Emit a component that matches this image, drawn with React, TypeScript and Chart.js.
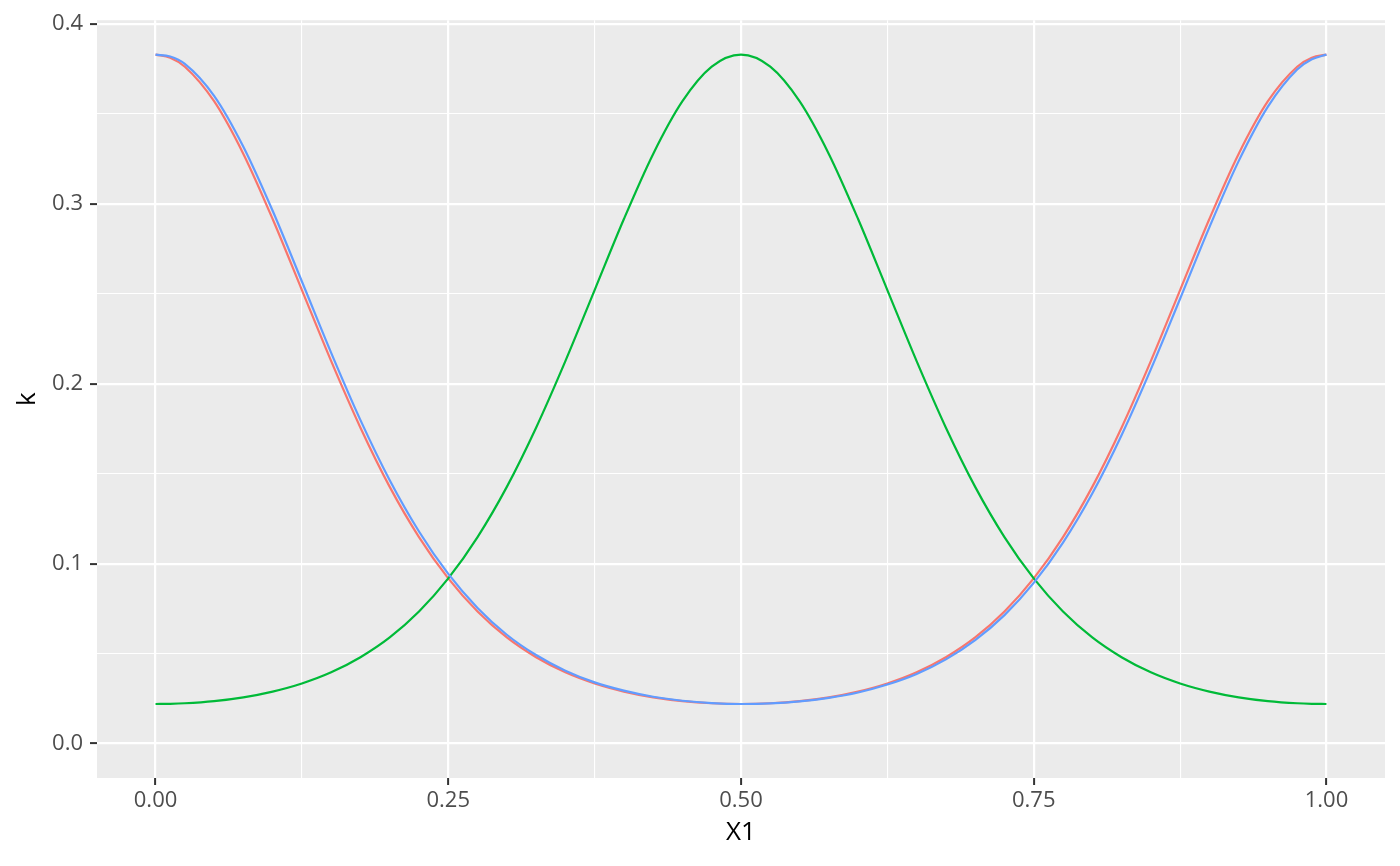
import { useEffect, useRef } from "react";
import { Chart, registerables, Plugin } from "chart.js";

Chart.register(...registerables);

const xValues = [
  0, 0.0125, 0.025, 0.05, 0.075, 0.1, 0.125, 0.15, 0.175, 0.2, 0.225, 0.25, 0.275, 0.3, 0.325,
  0.35, 0.375, 0.4, 0.425, 0.45, 0.475, 0.5, 0.525, 0.55, 0.575, 0.6, 0.625, 0.65,
  0.675, 0.7, 0.725, 0.75, 0.775, 0.8, 0.825, 0.85, 0.875, 0.9, 0.925, 0.95, 0.975, 0.9875, 1,
];

const series1 = [
  0.383, 0.3813, 0.3763, 0.3571, 0.3278, 0.2916, 0.2521, 0.2126, 0.1756, 0.1427, 0.1148, 0.0918,
  0.0734, 0.059, 0.048, 0.0396, 0.0334, 0.0289, 0.0257, 0.0236, 0.0224, 0.022, 0.0224,
  0.0236, 0.0257, 0.0289, 0.0334, 0.0396, 0.048, 0.059, 0.0734, 0.0918, 0.1148, 0.1427,
  0.1756, 0.2126, 0.2521, 0.2916, 0.3278, 0.3571, 0.3763, 0.3813, 0.383,
];

const series2 = [
  0.022, 0.0221, 0.0224, 0.0236, 0.0257, 0.0289, 0.0334, 0.0396, 0.048, 0.059, 0.0734, 0.0918,
  0.1148, 0.1427, 0.1756, 0.2126, 0.2521, 0.2916, 0.3278, 0.3571, 0.3763, 0.383, 0.3763,
  0.3571, 0.3278, 0.2916, 0.2521, 0.2126, 0.1756, 0.1427, 0.1148, 0.0918, 0.0734, 0.059,
  0.048, 0.0396, 0.0334, 0.0289, 0.0257, 0.0236, 0.0224, 0.0221, 0.022,
];

const series3 = [
  0.383, 0.382, 0.3779, 0.3601, 0.3318, 0.2962, 0.2569, 0.2172, 0.1798, 0.1464, 0.1179, 0.0943,
  0.0754, 0.0605, 0.0492, 0.0405, 0.034, 0.0294, 0.026, 0.0238, 0.0225, 0.022, 0.0223,
  0.0234, 0.0254, 0.0284, 0.0328, 0.0387, 0.0468, 0.0575, 0.0714, 0.0893, 0.1117, 0.139,
  0.1714, 0.208, 0.2473, 0.287, 0.3238, 0.3541, 0.3747, 0.3804, 0.383,
];

// gridline positions (major ones get labels)
const xGrid = [0, 0.125, 0.25, 0.375, 0.5, 0.625, 0.75, 0.875, 1];
const xMajor = [0, 0.25, 0.5, 0.75, 1];
const yGrid = [0, 0.05, 0.1, 0.15, 0.2, 0.25, 0.3, 0.35, 0.4];
const yMajor = [0, 0.1, 0.2, 0.3, 0.4];

const isMajor = (list: number[], v: number) => list.some((m) => Math.abs(m - v) < 1e-9);

const panelBg: Plugin = {
  id: "panelBg",
  beforeDraw(chart) {
    const { ctx, chartArea } = chart;
    ctx.save();
    ctx.fillStyle = "#EBEBEB";
    ctx.fillRect(chartArea.left, chartArea.top, chartArea.right - chartArea.left, chartArea.bottom - chartArea.top);
    ctx.restore();
  },
};

export default function App() {
  const chartRef = useRef<HTMLCanvasElement>(null);
  const chartInstance = useRef<Chart | null>(null);

  useEffect(() => {
    if (!chartRef.current) return;
    if (chartInstance.current) chartInstance.current.destroy();

    const mk = (label: string, data: number[], color: string, order: number) => ({
      label,
      data: xValues.map((x, i) => ({ x, y: data[i] })),
      borderColor: color,
      backgroundColor: color,
      borderWidth: 2.2,
      pointRadius: 0,
      fill: false,
      cubicInterpolationMode: "monotone" as const,
      order,
    });

    chartInstance.current = new Chart(chartRef.current, {
      type: "line",
      data: {
        datasets: [
          mk("1", series1, "#F8766D", 3),
          mk("2", series2, "#00BA38", 2),
          mk("3", series3, "#619CFF", 1),
        ],
      },
      plugins: [panelBg],
      options: {
        responsive: true,
        maintainAspectRatio: false,
        animation: false,
        layout: { padding: { top: 15, right: 15, left: 0, bottom: 0 } },
        plugins: { legend: { display: false }, tooltip: { enabled: false } },
        scales: {
          x: {
            type: "linear",
            min: -0.05,
            max: 1.05,
            afterBuildTicks: (scale) => {
              scale.ticks = xGrid.map((v) => ({ value: v }));
            },
            afterFit: (scale) => {
              scale.height = 88;
            },
            border: { display: false },
            grid: {
              color: "#FFFFFF",
              lineWidth: (c) => (isMajor(xMajor, c.tick?.value) ? 2.2 : 1.1),
              drawTicks: true,
              tickLength: 7,
              tickWidth: 2,
              tickColor: (c) => (isMajor(xMajor, c.tick?.value) ? "#333333" : "rgba(0,0,0,0)"),
            },
            ticks: {
              autoSkip: false,
              maxRotation: 0,
              padding: 3,
              color: "#4D4D4D",
              font: { family: "'Open Sans'", size: 22 },
              callback: (v) => (isMajor(xMajor, Number(v)) ? Number(v).toFixed(2) : ""),
            },
            title: {
              display: true,
              text: "X1",
              color: "#000000",
              font: { family: "'Open Sans'", size: 26 },
              padding: { top: 0, bottom: 18 },
            },
          },
          y: {
            type: "linear",
            min: -0.01915,
            max: 0.40215,
            afterBuildTicks: (scale) => {
              scale.ticks = yGrid.map((v) => ({ value: v }));
            },
            afterFit: (scale) => {
              scale.width = 97;
            },
            border: { display: false },
            grid: {
              color: "#FFFFFF",
              lineWidth: (c) => (isMajor(yMajor, c.tick?.value) ? 2.2 : 1.1),
              drawTicks: true,
              tickLength: 7,
              tickWidth: 2,
              tickColor: (c) => (isMajor(yMajor, c.tick?.value) ? "#333333" : "rgba(0,0,0,0)"),
            },
            ticks: {
              autoSkip: false,
              padding: 7,
              color: "#4D4D4D",
              font: { family: "'Open Sans'", size: 22 },
              callback: (v) => (isMajor(yMajor, Number(v)) ? Number(v).toFixed(1) : ""),
            },
            title: {
              display: true,
              text: "k",
              color: "#000000",
              font: { family: "'Open Sans'", size: 26 },
              padding: { top: 12, bottom: 0 },
            },
          },
        },
      },
    });

    return () => {
      if (chartInstance.current) {
        chartInstance.current.destroy();
        chartInstance.current = null;
      }
    };
  }, []);

  return (
    <div style={{ position: "fixed", top: 0, left: 0, width: 1400, height: 866, background: "#FFFFFF" }}>
      <canvas ref={chartRef} />
    </div>
  );
}
